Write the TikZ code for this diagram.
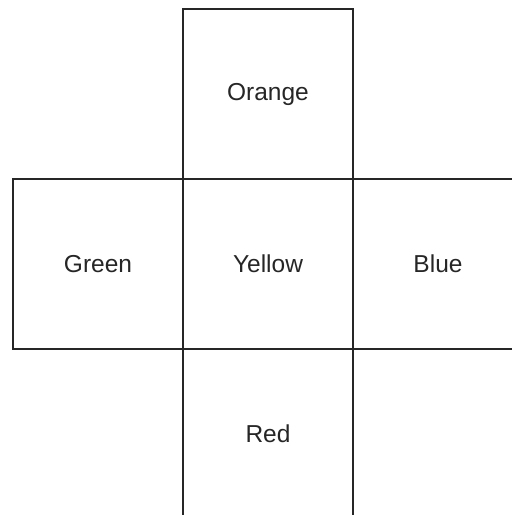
\documentclass[tikz,border=0pt]{standalone}
\usepackage{fontspec}
\setmainfont{Liberation Sans}
\begin{document}
\begin{tikzpicture}[x=1pt,y=-1pt,
  cell/.style={draw=black!85,line width=1.2pt,minimum width=170pt,minimum height=170pt,inner sep=0pt,anchor=center,font=\fontsize{24.5}{28}\selectfont,text=black!85}]
\useasboundingbox (0,0) rectangle (512,515);
\clip (0,0) rectangle (512,515);
\node[cell] (yellow) at (268,264) {Yellow};
\node[cell] (orange) at (268,94) {Orange};
\node[cell] (green) at (98,264) {Green};
\node[cell] (blue) at (438,264) {Blue};
\node[cell] (red) at (268,434) {Red};
\end{tikzpicture}
\end{document}
